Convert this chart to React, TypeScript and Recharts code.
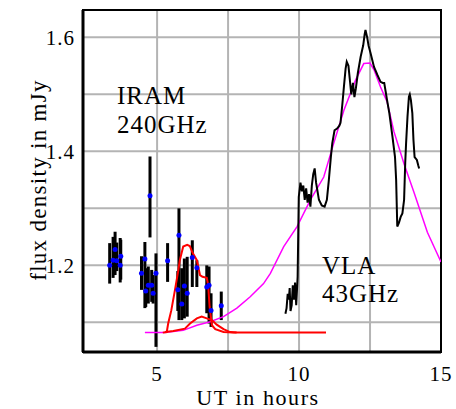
import React from "react";
import {
  ComposedChart,
  Line,
  Scatter,
  ErrorBar,
  XAxis,
  YAxis,
  CartesianGrid,
  ReferenceArea,
} from "recharts";

// IRAM 240 GHz points: x (UT), y (flux), bar low / bar high
const iramX = [3.33, 3.45, 3.52, 3.58, 3.7, 3.72, 4.45, 4.57, 4.6, 4.69, 4.75, 4.81, 4.86, 4.96, 5.37, 5.73, 5.77, 5.87, 5.96, 6.06, 6.24, 6.4, 6.75, 6.83, 6.9, 7.26];
const iramY = [1.2, 1.209, 1.228, 1.208, 1.2, 1.216, 1.186, 1.211, 1.155, 1.165, 1.322, 1.165, 1.151, 1.186, 1.208, 1.157, 1.253, 1.132, 1.164, 1.151, 1.214, 1.196, 1.162, 1.165, 1.121, 1.129];
const iramLo = [1.168, 1.178, 1.183, 1.19, 1.17, 1.175, 1.157, 1.125, 1.127, 1.133, 1.249, 1.136, 1.133, 1.057, 1.171, 1.12, 1.104, 1.104, 1.107, 1.11, 1.162, 1.162, 1.116, 1.098, 1.092, 1.104];
const iramHi = [1.239, 1.25, 1.259, 1.24, 1.248, 1.245, 1.216, 1.241, 1.195, 1.198, 1.391, 1.192, 1.183, 1.221, 1.239, 1.19, 1.3, 1.195, 1.212, 1.215, 1.244, 1.209, 1.2, 1.198, 1.151, 1.154];

// model curves (red), fit (magenta), VLA 43 GHz light curve (black)
const redTall: [number, number][] = [
  [5.2, 1.082], [5.34, 1.083], [5.39, 1.098], [5.5, 1.121], [5.63, 1.157], [5.75, 1.192],
  [5.8, 1.209], [5.92, 1.233], [6.06, 1.236], [6.15, 1.234], [6.25, 1.222], [6.4, 1.209],
  [6.51, 1.183], [6.6, 1.18], [6.75, 1.178], [6.8, 1.165], [6.85, 1.127], [6.93, 1.095],
  [7.05, 1.088], [7.34, 1.083], [7.69, 1.082], [10.95, 1.082],
];
const redLow: [number, number][] = [
  [5.28, 1.083], [5.57, 1.085], [5.98, 1.089], [6.16, 1.098], [6.4, 1.107], [6.57, 1.11],
  [6.75, 1.107], [6.93, 1.104], [7.1, 1.096], [7.34, 1.088], [7.57, 1.083], [7.8, 1.082],
];
const magenta: [number, number][] = [
  [4.57, 1.082], [5.28, 1.082], [5.92, 1.086], [6.4, 1.095], [6.87, 1.101], [7.34, 1.11],
  [7.81, 1.125], [8.28, 1.145], [8.75, 1.168], [8.99, 1.186], [9.46, 1.233], [9.93, 1.268],
  [10.4, 1.315], [10.87, 1.355], [11.22, 1.414], [11.58, 1.472], [11.99, 1.525], [12.28, 1.554],
  [12.5, 1.555], [12.64, 1.543], [12.87, 1.513], [13.1, 1.487], [13.34, 1.435], [13.7, 1.378],
  [14.05, 1.328], [14.52, 1.258], [15, 1.206],
];
const vla: [number, number][] = [
  [9.52, 1.115], [9.56, 1.125], [9.6, 1.15], [9.64, 1.14], [9.67, 1.16], [9.7, 1.12],
  [9.74, 1.13], [9.78, 1.165], [9.82, 1.14], [9.86, 1.17], [9.9, 1.13], [9.95, 1.18],
  [9.99, 1.32], [10.05, 1.345], [10.1, 1.33], [10.15, 1.34], [10.2, 1.315], [10.25, 1.335],
  [10.3, 1.31], [10.35, 1.325], [10.4, 1.303], [10.45, 1.34], [10.5, 1.36], [10.55, 1.37],
  [10.6, 1.345], [10.65, 1.33], [10.7, 1.315], [10.8, 1.305], [10.9, 1.303], [10.98, 1.315],
  [11.05, 1.35], [11.12, 1.39], [11.17, 1.414], [11.25, 1.437], [11.34, 1.44], [11.42, 1.445],
  [11.46, 1.45], [11.52, 1.48], [11.58, 1.513], [11.64, 1.545], [11.68, 1.557], [11.74, 1.55],
  [11.8, 1.52], [11.84, 1.5], [11.9, 1.52], [11.95, 1.495], [12.0, 1.51], [12.07, 1.537],
  [12.17, 1.566], [12.26, 1.586], [12.31, 1.605], [12.34, 1.613], [12.4, 1.6], [12.45, 1.585],
  [12.52, 1.572], [12.64, 1.548], [12.76, 1.534], [12.87, 1.522], [12.95, 1.52], [13.0, 1.52],
  [13.05, 1.505], [13.1, 1.49], [13.18, 1.467], [13.29, 1.426], [13.38, 1.39], [13.42, 1.35],
  [13.46, 1.268], [13.52, 1.275], [13.58, 1.285], [13.64, 1.291], [13.7, 1.315], [13.74, 1.38],
  [13.77, 1.414], [13.82, 1.461], [13.87, 1.496], [13.9, 1.5], [13.94, 1.49], [13.99, 1.467],
  [14.03, 1.42], [14.07, 1.39], [14.15, 1.385], [14.2, 1.375], [14.23, 1.37],
];

const xTicks = [5, 7.5, 10, 12.5, 15];
const yTicks = [1.1, 1.2, 1.3, 1.4, 1.5, 1.6];
const xDomain = [2.39, 15];
const yDomain = [1.048, 1.648];

const serif = "'Liberation Serif', 'Times New Roman', serif";

const toPts = (arr: [number, number][]) => arr.map(([x, y]) => ({ x, y }));

const iramData = iramX.map((x, i) => ({
  x,
  y: iramY[i],
  err: [iramY[i] - iramLo[i], iramHi[i] - iramY[i]],
}));

const BlueDot = (props: any) => (
  <circle cx={props.cx} cy={props.cy} r={2.5} fill="#0000ff" />
);

export default function App() {
  const tickStyle = { fontFamily: serif, fontSize: 21, fill: "#000", letterSpacing: 1 };
  return (
    <div
      style={{
        position: "absolute",
        left: 0,
        top: 0,
        width: 456,
        height: 409,
        overflow: "hidden",
        background: "#fff",
      }}
    >
      <ComposedChart
        width={456}
        height={409}
        margin={{ top: 10, right: 15, bottom: 0, left: 8 }}
      >
        <CartesianGrid stroke="#b4b4b4" strokeWidth={2} />
        <XAxis
          dataKey="x"
          type="number"
          domain={xDomain}
          allowDataOverflow
          ticks={xTicks}
          tickFormatter={(v: number) => (Number.isInteger(v) ? String(v) : "")}
          tickLine={false}
          tickMargin={8}
          height={57}
          axisLine={{ stroke: "#000", strokeWidth: 3 }}
          tick={tickStyle}
        />
        <YAxis
          dataKey="y"
          type="number"
          domain={yDomain}
          allowDataOverflow
          ticks={yTicks}
          tickFormatter={(v: number) => (Math.round(v * 10) % 2 === 0 ? v.toFixed(1) : "")}
          tickLine={false}
          width={75}
          axisLine={{ stroke: "#000", strokeWidth: 3 }}
          tick={tickStyle}
        />
        <ReferenceArea
          x1={xDomain[0]}
          x2={xDomain[1]}
          y1={yDomain[0]}
          y2={yDomain[1]}
          fill="none"
          stroke="#000"
          strokeWidth={2}
          fillOpacity={0}
        />
        <Scatter data={iramData} dataKey="y" shape={<BlueDot />} isAnimationActive={false}>
          <ErrorBar dataKey="err" direction="y" width={0} stroke="#000" strokeWidth={3} />
        </Scatter>
        <Line data={toPts(magenta)} dataKey="y" stroke="#ff00ff" strokeWidth={1.5} dot={false} isAnimationActive={false} />
        <Line data={toPts(redLow)} dataKey="y" stroke="#ff0000" strokeWidth={2} dot={false} isAnimationActive={false} />
        <Line data={toPts(redTall)} dataKey="y" stroke="#ff0000" strokeWidth={2} dot={false} isAnimationActive={false} />
        <Line data={toPts(vla)} dataKey="y" stroke="#000" strokeWidth={2} dot={false} isAnimationActive={false} />
      </ComposedChart>
      <svg
        width={456}
        height={409}
        style={{ position: "absolute", left: 0, top: 0, pointerEvents: "none" }}
        fontFamily={serif}
        fill="#000"
      >
        <text x={117} y={104} fontSize={25} letterSpacing={1}>IRAM</text>
        <text x={117} y={133} fontSize={25} letterSpacing={1}>240GHz</text>
        <text x={322} y={274} fontSize={25} letterSpacing={1}>VLA</text>
        <text x={322} y={302} fontSize={25} letterSpacing={1}>43GHz</text>
        <text x={258} y={405} fontSize={22} letterSpacing={1.6} textAnchor="middle">UT in hours</text>
        <text
          x={46}
          y={180}
          fontSize={23}
          letterSpacing={1.3}
          textAnchor="middle"
          transform="rotate(-90 46 180)"
        >
          flux density in mJy
        </text>
      </svg>
    </div>
  );
}
